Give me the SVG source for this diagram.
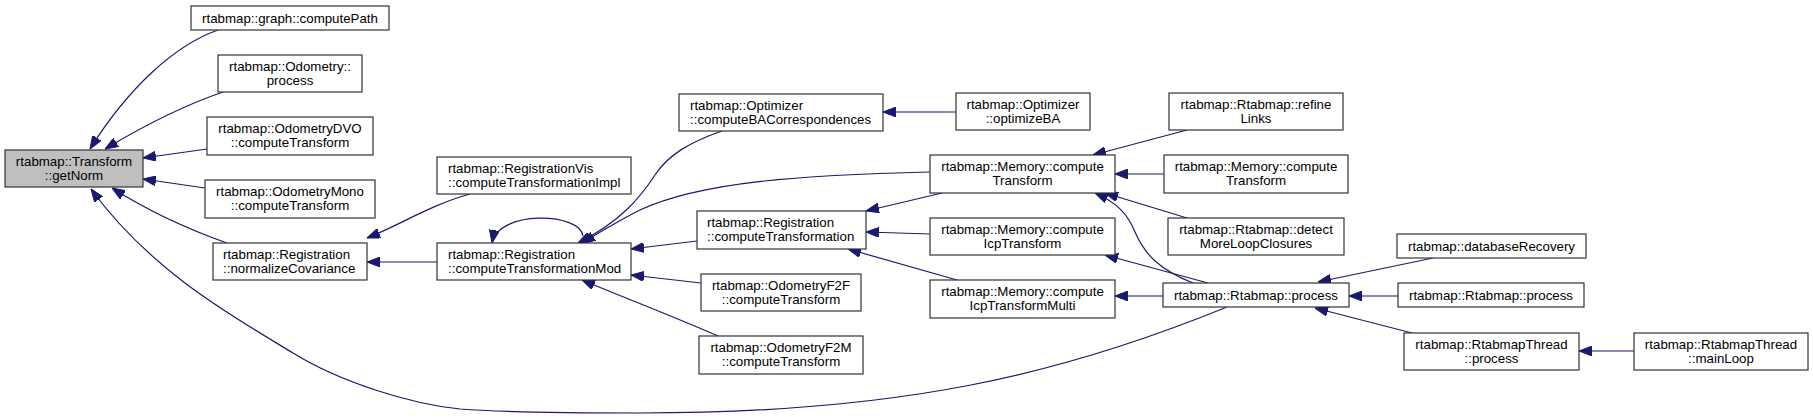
<svg xmlns="http://www.w3.org/2000/svg" width="1813" height="418" viewBox="0 0 1813 418">
<style>
.n rect{fill:#fff;stroke:#333;stroke-width:1.2}
.n text{font-family:"Liberation Sans",Arial,Helvetica,sans-serif;font-size:13.3px;fill:#000}
.c{text-anchor:middle}
.e path{fill:none;stroke:#191970;stroke-width:1.2;marker-end:url(#ah)}
</style>
<defs>
<marker id="ah" markerUnits="userSpaceOnUse" markerWidth="13" markerHeight="10" refX="13" refY="5" orient="auto"><path d="M0,0 L13,5 L0,10 z" fill="#191970" stroke="#191970"/></marker>
</defs>
<rect width="1813" height="418" fill="#fff"/>
<g id="connectors" class="e">
<path d="M218,30 C175,45 128,88 90,149"/>
<path d="M223,92 C185,105 150,122 105,149"/>
<path d="M207,149 L143,158"/>
<path d="M205,188 L143,179"/>
<path d="M227,243 C190,230 150,212 112,188"/>
<path d="M1227,307 C1060,375 900,413 640,413 C560,413 500,412 460,409 C410,404 340,382 293,353 C230,315 150,270 91,189"/>
<path d="M470,194 C430,205 400,225 367,238"/>
<path d="M437,262 L367,262"/>
<path d="M583,236 C580,212 498,210 492,243"/>
<path d="M722,131 C690,142 668,155 655,175 C640,198 620,222 578,243"/>
<path d="M930,172 C800,175 700,182 640,210 C620,220 600,232 582,243"/>
<path d="M697,241 L631,249"/>
<path d="M701,283 L631,275"/>
<path d="M718,336 C670,315 620,296 582,280"/>
<path d="M942,193 L866,211"/>
<path d="M930,234 L866,232"/>
<path d="M957,280 L848,249"/>
<path d="M956,112 L883,112"/>
<path d="M1187,130 L1093,155"/>
<path d="M1164,174 L1115,174"/>
<path d="M1187,218 L1105,193"/>
<path d="M1193,283 C1160,270 1145,255 1135,232 C1128,215 1118,203 1095,193"/>
<path d="M1208,283 L1105,255"/>
<path d="M1163,296 L1115,296"/>
<path d="M1433,258 L1318,282"/>
<path d="M1398,296 L1349,296"/>
<path d="M1412,333 L1315,308"/>
<path d="M1634,351 L1579,351"/>
</g>
<g id="n_getNorm" class="n"><rect x="5" y="150" width="138" height="37" style="fill:#bfbfbf"/><text class="c" x="74" y="166">rtabmap::Transform</text><text class="c" x="74" y="180">::getNorm</text></g>
<g id="n_computePath" class="n"><rect x="191" y="6" width="198" height="24"/><text class="c" x="290" y="22.5">rtabmap::graph::computePath</text></g>
<g id="n_odomProcess" class="n"><rect x="218" y="55" width="144" height="37"/><text class="c" x="290" y="71">rtabmap::Odometry::</text><text class="c" x="290" y="85">process</text></g>
<g id="n_odomDVO" class="n"><rect x="207" y="117" width="166" height="38"/><text class="c" x="290" y="133">rtabmap::OdometryDVO</text><text class="c" x="290" y="147">::computeTransform</text></g>
<g id="n_odomMono" class="n"><rect x="205" y="180" width="170" height="38"/><text class="c" x="290" y="196">rtabmap::OdometryMono</text><text class="c" x="290" y="210">::computeTransform</text></g>
<g id="n_normCov" class="n"><rect x="213" y="243" width="154" height="37"/><text x="223" y="259">rtabmap::Registration</text><text x="223" y="273">::normalizeCovariance</text></g>
<g id="n_regVis" class="n"><rect x="437" y="157" width="194" height="37"/><text x="448" y="173">rtabmap::RegistrationVis</text><text x="448" y="187">::computeTransformationImpl</text></g>
<g id="n_ctMod" class="n"><rect x="437" y="243" width="194" height="37"/><text x="448" y="259">rtabmap::Registration</text><text x="448" y="273">::computeTransformationMod</text></g>
<g id="n_baCorr" class="n"><rect x="679" y="94" width="204" height="37"/><text x="690" y="110">rtabmap::Optimizer</text><text x="690" y="124">::computeBACorrespondences</text></g>
<g id="n_regCT" class="n"><rect x="697" y="211" width="169" height="38"/><text x="707" y="227">rtabmap::Registration</text><text x="707" y="241">::computeTransformation</text></g>
<g id="n_f2f" class="n"><rect x="701" y="274" width="160" height="37"/><text class="c" x="781" y="290">rtabmap::OdometryF2F</text><text class="c" x="781" y="304">::computeTransform</text></g>
<g id="n_f2m" class="n"><rect x="699" y="336" width="164" height="38"/><text class="c" x="781" y="352">rtabmap::OdometryF2M</text><text class="c" x="781" y="366">::computeTransform</text></g>
<g id="n_optBA" class="n"><rect x="956" y="93" width="134" height="37"/><text class="c" x="1023" y="109">rtabmap::Optimizer</text><text class="c" x="1023" y="123">::optimizeBA</text></g>
<g id="n_memCT" class="n"><rect x="930" y="155" width="185" height="38"/><text class="c" x="1022.5" y="171">rtabmap::Memory::compute</text><text class="c" x="1022.5" y="185">Transform</text></g>
<g id="n_memIcp" class="n"><rect x="930" y="218" width="185" height="37"/><text class="c" x="1022.5" y="234">rtabmap::Memory::compute</text><text class="c" x="1022.5" y="248">IcpTransform</text></g>
<g id="n_memIcpMulti" class="n"><rect x="930" y="280" width="185" height="38"/><text class="c" x="1022.5" y="296">rtabmap::Memory::compute</text><text class="c" x="1022.5" y="310">IcpTransformMulti</text></g>
<g id="n_refine" class="n"><rect x="1169" y="93" width="174" height="37"/><text class="c" x="1256" y="109">rtabmap::Rtabmap::refine</text><text class="c" x="1256" y="123">Links</text></g>
<g id="n_memCT2" class="n"><rect x="1164" y="155" width="184" height="38"/><text class="c" x="1256" y="171">rtabmap::Memory::compute</text><text class="c" x="1256" y="185">Transform</text></g>
<g id="n_detect" class="n"><rect x="1168" y="218" width="176" height="37"/><text class="c" x="1256" y="234">rtabmap::Rtabmap::detect</text><text class="c" x="1256" y="248">MoreLoopClosures</text></g>
<g id="n_rtabProcess" class="n"><rect x="1163" y="283" width="186" height="24"/><text class="c" x="1256" y="299.5">rtabmap::Rtabmap::process</text></g>
<g id="n_dbRecovery" class="n"><rect x="1397" y="234" width="189" height="24"/><text class="c" x="1491.5" y="250.5">rtabmap::databaseRecovery</text></g>
<g id="n_rtabProcess2" class="n"><rect x="1398" y="283" width="186" height="24"/><text class="c" x="1491" y="299.5">rtabmap::Rtabmap::process</text></g>
<g id="n_threadProcess" class="n"><rect x="1404" y="333" width="175" height="37"/><text class="c" x="1491.5" y="349">rtabmap::RtabmapThread</text><text class="c" x="1491.5" y="363">::process</text></g>
<g id="n_mainLoop" class="n"><rect x="1634" y="333" width="174" height="37"/><text class="c" x="1721" y="349">rtabmap::RtabmapThread</text><text class="c" x="1721" y="363">::mainLoop</text></g>
</svg>
